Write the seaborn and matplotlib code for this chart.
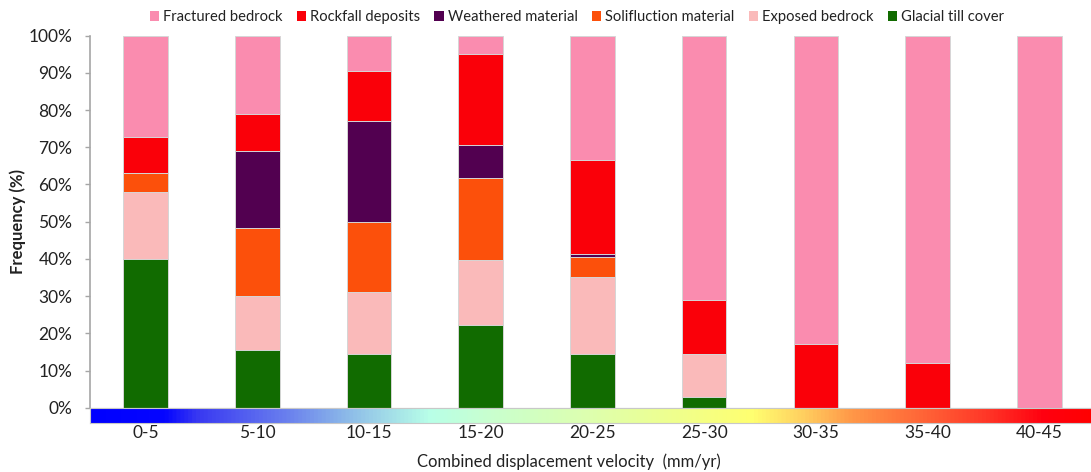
import numpy as np
import pandas as pd
import matplotlib
matplotlib.use("Agg")
import matplotlib.pyplot as plt
from matplotlib.colors import LinearSegmentedColormap
from matplotlib.patches import Patch
import seaborn as sns

# Velocity classes (mm/yr)
classes = ["0-5", "5-10", "10-15", "15-20", "20-25", "25-30", "30-35", "35-40", "40-45"]

# Share of each surface material per velocity class (%), bottom to top of the stack
glacial_till = [40.0, 15.6, 14.5, 22.1, 14.5, 3.0, 0.0, 0.0, 0.0]
exposed_bedrock = [18.0, 14.5, 16.6, 17.5, 20.6, 11.4, 0.0, 0.0, 0.0]
solifluction = [5.1, 18.2, 18.7, 22.1, 5.5, 0.0, 0.0, 0.0, 0.0]
weathered = [0.0, 20.8, 27.4, 8.8, 0.6, 0.0, 0.0, 0.0, 0.0]
rockfall = [9.7, 9.8, 13.3, 24.6, 25.3, 14.6, 17.1, 12.1, 0.0]
fractured = [27.2, 21.1, 9.5, 4.9, 33.5, 71.0, 82.9, 87.9, 100.0]

layer_names = ["Glacial till cover", "Exposed bedrock", "Solifluction material",
               "Weathered material", "Rockfall deposits", "Fractured bedrock"]
layer_values = [glacial_till, exposed_bedrock, solifluction, weathered, rockfall, fractured]
layer_colors = ["#116b00", "#fababa", "#fc500b", "#520050", "#fa0009", "#fa8caf"]

legend_order = ["Fractured bedrock", "Rockfall deposits", "Weathered material",
                "Solifluction material", "Exposed bedrock", "Glacial till cover"]

sns.set_theme(style="white")
plt.rcParams["font.family"] = ["Lato", "DejaVu Sans"]
text_color = "#222222"

W, H = 1091, 472
fig = plt.figure(figsize=(W / 100, H / 100), dpi=100)
ax = fig.add_axes([89.8 / W, 64.3 / H, 1005.3 / W, 372.0 / H])
cax = fig.add_axes([89.8 / W, 48.7 / H, 1005.3 / W, 15.6 / H])

# Stacked bars: draw cumulative totals from the top layer downwards
df = pd.DataFrame({name: vals for name, vals in zip(layer_names, layer_values)})
df.insert(0, "class", classes)
cumulative = df[layer_names].cumsum(axis=1)
for name, color in reversed(list(zip(layer_names, layer_colors))):
    sns.barplot(x=df["class"], y=cumulative[name], order=classes, color=color,
                saturation=1, width=0.4, errorbar=None, ax=ax,
                edgecolor="#d6d6d6", linewidth=0.7)

ax.set_xlim(-0.5, 8.5)
ax.set_ylim(0, 100)
ax.set_yticks(np.arange(0, 101, 10))
ax.set_yticklabels([f"{v}%" for v in range(0, 101, 10)], fontsize=12.5, color=text_color)
ax.set_xticks([])
ax.set_xlabel("")
ax.set_ylabel("")
for side in ["top", "right"]:
    ax.spines[side].set_visible(False)
ax.spines["left"].set_color("#a6a6a6")
ax.spines["left"].set_linewidth(1.2)
ax.spines["bottom"].set_color("#bfbfbf")
ax.spines["bottom"].set_linewidth(0.8)
ax.tick_params(axis="y", which="major", left=True, length=3.6, width=1.0,
               color="#a6a6a6", pad=9)

# Velocity colour band along the category axis
band_stops = [
    (0.000, "#0000ff"), (0.073, "#0505ff"), (0.105, "#3838f2"), (0.195, "#6a80ee"),
    (0.261, "#90c0e8"), (0.337, "#b8ffe8"), (0.394, "#c8ffd0"), (0.493, "#ddffb0"),
    (0.575, "#eeff90"), (0.659, "#ffff70"), (0.709, "#ffd060"), (0.758, "#ff9848"),
    (0.824, "#ff6838"), (0.891, "#ff3828"), (0.950, "#ff0010"), (1.000, "#ff0000"),
]
band_cmap = LinearSegmentedColormap.from_list("velocity", band_stops)
cax.imshow(np.linspace(0, 1, 1024)[None, :], aspect="auto", cmap=band_cmap,
           extent=(-0.5, 8.5, 0, 1), interpolation="bilinear")
cax.set_xlim(-0.5, 8.5)
cax.set_ylim(0, 1)
cax.set_yticks([])
cax.set_xticks(range(len(classes)))
cax.set_xticklabels(classes, fontsize=12.5, color=text_color)
cax.tick_params(axis="x", length=0, pad=1.5)
for s in cax.spines.values():
    s.set_color("#c8c8c8")
    s.set_linewidth(0.8)

fig.text(568.8 / W, 1 - 462.0 / H, "Combined displacement velocity  (mm/yr)",
         ha="center", va="center", fontsize=12, color=text_color)
fig.text(18.0 / W, 1 - 221.7 / H, "Frequency (%)", ha="center", va="center",
         rotation=90, fontsize=12, fontweight="bold", color=text_color)

color_of = dict(zip(layer_names, layer_colors))
handles = [Patch(facecolor=color_of[n], edgecolor="none", label=n) for n in legend_order]
fig.legend(handles=handles, loc="center", bbox_to_anchor=(577 / W, 1 - 17 / H),
           ncol=6, frameon=False, fontsize=10.6, handlelength=0.62, handleheight=0.62,
           handletextpad=0.3, columnspacing=0.95, labelcolor=text_color,
           borderaxespad=0, borderpad=0)

fig.savefig("out.png", dpi=100)
